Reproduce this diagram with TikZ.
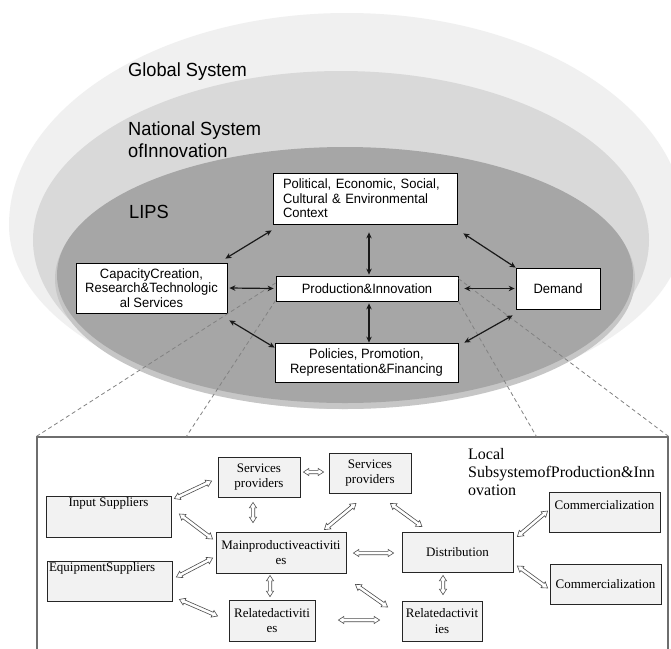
\documentclass[tikz,border=0pt]{standalone}
\usepackage{fontspec}
\setmainfont{Liberation Serif}
\newfontfamily\sansf[FakeStretch=0.96]{Liberation Sans}
\usetikzlibrary{calc,arrows.meta}
\definecolor{outerc}{RGB}{240,240,240}
\definecolor{midc}{RGB}{217,217,217}
\definecolor{haloc}{RGB}{198,198,198}
\definecolor{innc}{RGB}{166,166,166}
\definecolor{boxgray}{RGB}{242,242,242}
\definecolor{dashc}{RGB}{130,130,130}
\definecolor{framec}{RGB}{110,110,110}
\newcommand\hollowarrow[2]{%
  \coordinate (ha) at (#1);
  \coordinate (hb) at (#2);
  \draw[harr] (ha)
   -- ($(ha)!5.5pt!(hb)!3.6pt!90:(hb)$)
   -- ($(ha)!5.5pt!(hb)!1.7pt!90:(hb)$)
   -- ($(hb)!5.5pt!(ha)!1.7pt!-90:(ha)$)
   -- ($(hb)!5.5pt!(ha)!3.6pt!-90:(ha)$)
   -- (hb)
   -- ($(hb)!5.5pt!(ha)!3.6pt!90:(ha)$)
   -- ($(hb)!5.5pt!(ha)!1.7pt!90:(ha)$)
   -- ($(ha)!5.5pt!(hb)!1.7pt!-90:(hb)$)
   -- ($(ha)!5.5pt!(hb)!3.6pt!-90:(hb)$)
   -- cycle;}
\begin{document}
\begin{tikzpicture}[x=1pt,y=-1pt,
  lbl/.style={inner sep=0pt, font=\sansf\fontsize{19}{22}\selectfont},
  topbox/.style={draw=black, line width=0.8pt, fill=white, inner sep=0pt, align=center,
    font=\sansf\fontsize{13.5}{14.5}\selectfont},
  botbox/.style={draw=black!85, line width=0.8pt, fill=boxgray, inner sep=0pt, align=center,
    font=\fontsize{13}{15.5}\selectfont},
  blk/.style={draw=black!90, line width=1.2pt, {Stealth[length=6pt,width=5.5pt]}-{Stealth[length=6pt,width=5.5pt]}},
  harr/.style={draw=black!70, line width=0.6pt, fill=white, line join=miter},
  dsh/.style={draw=dashc, line width=0.8pt, dash pattern=on 4pt off 3pt}]
\useasboundingbox (0,0) rectangle (671,648);
\clip (0,0) rectangle (671,648);
\fill[white] (0,0) rectangle (671,648);
% nested systems
\fill[outerc] (9,225) arc[start angle=180,end angle=0,x radius=338pt,y radius=212pt]
  arc[start angle=0,end angle=-180,x radius=338pt,y radius=180pt] -- cycle;
\fill[midc] (341,240) ellipse [x radius=308pt, y radius=169pt];
\fill[haloc] (345,279) ellipse [x radius=290pt, y radius=130pt];
\fill[innc] (345,275) ellipse [x radius=288pt, y radius=128pt];
% system labels
\node[lbl, anchor=base west] (gs) at (128,76) {Global System};
\node[lbl, anchor=north west, align=left] (nsi) at (128,122) {National System\\ofInnovation};
\node[lbl, anchor=base west] (lips) at (129,218) {LIPS};
% local subsystem frame
\node[draw=framec, line width=1.2pt, fill=white, minimum width=631pt, minimum height=216pt, inner sep=0pt] (loc) at (352.5,545) {};
% LIPS boxes
\node[topbox, text width=164pt, align=left, inner xsep=10pt, minimum height=51pt] (pol) at (365,198.5)
  {Political, Economic, Social,\\Cultural \& Environmental\\Context};
\node[topbox, minimum width=151pt, minimum height=50pt] (cap) at (151.5,288)
  {CapacityCreation,\\Research\&Technologic\\al Services};
\node[topbox, minimum width=182pt, minimum height=25pt] (prod) at (367,288.5) {Production\&Innovation};
\node[topbox, minimum width=84pt, minimum height=41pt] (dem) at (558,288.5) {Demand};
\node[topbox, minimum width=183pt, minimum height=39pt] (ppr) at (366.5,362.5)
  {Policies, Promotion,\\Representation\&Financing};
% zoom lines
\draw[dsh] ($(prod.west)+(0,-5.5)$) -- (loc.north west);
\draw[dsh] ($(prod.south west)+(0,-1)$) -- ($(loc.north west)+(150,0)$);
\draw[dsh] ($(prod.north east)+(0,3)$) -- (loc.north east);
\draw[dsh] (prod.south east) -- ($(loc.north west)+(500,0)$);
% LIPS arrows
\draw[blk] ($(pol.south west)+(-1,6)$) -- ($(cap.north east)+(-2,-4)$);
\draw[blk] ($(pol.south)+(4,8)$) -- ($(prod.north)+(2,-1)$);
\draw[blk] ($(pol.south east)+(6,9)$) -- ($(dem.north west)+(0,0)$);
\draw[blk] ($(cap.east)+(2,0)$) -- ($(prod.west)+(-2,0)$);
\draw[blk] ($(prod.east)+(6,0)$) -- ($(dem.west)+(-1,0)$);
\draw[blk] ($(cap.south east)+(2,7)$) -- ($(ppr.north west)+(0,5)$);
\draw[blk] ($(prod.south)+(2,2)$) -- ($(ppr.north)+(2.5,0)$);
\draw[blk] ($(dem.south west)+(-3,6)$) -- ($(ppr.north east)+(6,0)$);
% local subsystem boxes
\node[anchor=north west, inner sep=0pt, align=left, font=\fontsize{16}{18}\selectfont] (lsp) at (468,448)
  {Local\\SubsystemofProduction\&Inn\\ovation};
\node[botbox, minimum width=82pt, minimum height=40pt] (sp1) at (259,477) {Services\\providers};
\node[botbox, minimum width=82pt, minimum height=40pt] (sp2) at (370,473) {Services\\providers};
\node[botbox, minimum width=125pt, text height=10pt, text depth=31pt] (inp) at (108.5,516.5) {Input Suppliers};
\node[botbox, minimum width=130pt, minimum height=41pt] (mpa) at (281,552.5) {Mainproductiveactiviti\\es};
\node[botbox, minimum width=111pt, minimum height=40pt] (dist) at (457.5,552) {Distribution};
\node[botbox, text width=121pt, align=left, inner xsep=2pt, text height=10pt, text depth=30pt] (eqp) at (109.5,581) {EquipmentSuppliers};
\node[botbox, minimum width=86pt, minimum height=41pt] (rel1) at (272,620.5) {Relatedactiviti\\es};
\node[botbox, minimum width=80pt, minimum height=40pt] (rel2) at (442,621) {Relatedactivit\\ies};
\node[botbox, minimum width=111pt, text height=17pt, text depth=23pt] (com1) at (604.5,512) {Commercialization};
\node[botbox, minimum width=111pt, minimum height=40pt] (com2) at (605.5,584) {Commercialization};
% hollow double arrows
\hollowarrow{$(inp.north east)+(3,3)$}{$(sp1.west)+(-6,4)$}
\hollowarrow{$(sp1.east)+(3,-5)$}{$(sp2.west)+(-5,-1)$}
\hollowarrow{$(sp1.south)+(-6,5)$}{$(mpa.north)+(-28,-9)$}
\hollowarrow{$(inp.east)+(8,-2.5)$}{$(mpa.west)+(-3,-13.5)$}
\hollowarrow{$(sp2.south)+(-14,10)$}{$(mpa.north east)+(-22,-2)$}
\hollowarrow{$(sp2.south east)+(-21,10)$}{$(dist.north)+(-35.5,-5)$}
\hollowarrow{$(mpa.east)+(7,0.5)$}{$(dist.west)+(-8,1)$}
\hollowarrow{$(eqp.east)+(4,-4)$}{$(mpa.west)+(-3,5.5)$}
\hollowarrow{$(mpa.south)+(-11,2)$}{$(rel1.north)+(-2,-3)$}
\hollowarrow{$(eqp.south east)+(7,-2)$}{$(rel1.west)+(-11,-4.5)$}
\hollowarrow{$(mpa.south east)+(9,11)$}{$(rel2.west)+(-14,-14)$}
\hollowarrow{$(rel1.east)+(23,-0.5)$}{$(rel2.west)+(-22,-1)$}
\hollowarrow{$(dist.south)+(-14.5,3)$}{$(rel2.north)+(1,-6)$}
\hollowarrow{$(dist.north east)+(4,5)$}{$(com1.west)+(-1,-1)$}
\hollowarrow{$(dist.east)+(4,14)$}{$(com2.west)+(-2,4)$}
\end{tikzpicture}
\end{document}
